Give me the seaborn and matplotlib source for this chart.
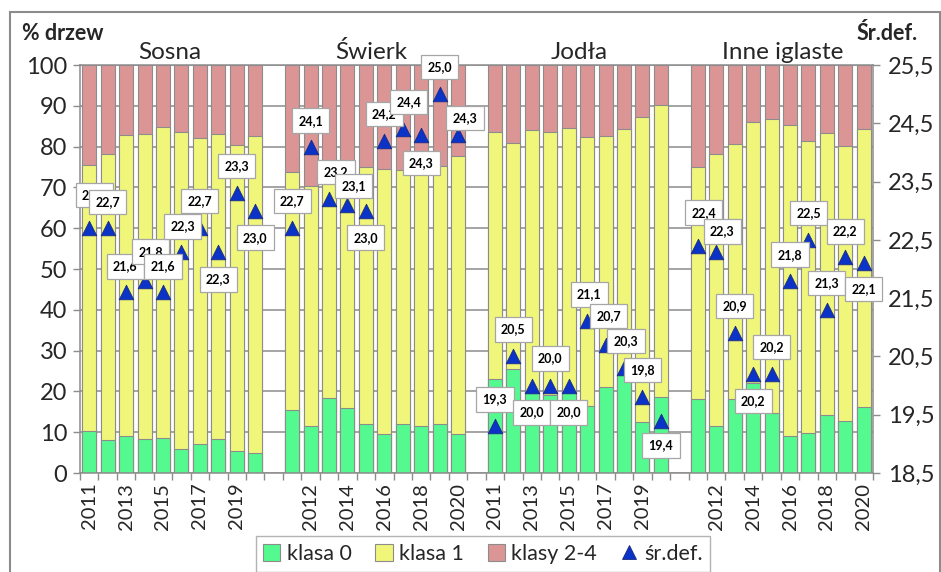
import numpy as np
import pandas as pd
import matplotlib
matplotlib.use("Agg")
import matplotlib.pyplot as plt
import seaborn as sns
from matplotlib.patches import Patch, Rectangle
from matplotlib.lines import Line2D
from matplotlib.ticker import FixedLocator

# ---------------- data ----------------
groups = ["Sosna", "Świerk", "Jodła", "Inne iglaste"]
years = [2011, 2012, 2013, 2014, 2015, 2016, 2017, 2018, 2019, 2020]

klasa0 = {
    "Sosna":        [10.3, 8.0, 9.1, 8.3, 8.7, 5.9, 7.1, 8.3, 5.4, 4.9],
    "Świerk":       [15.4, 11.5, 18.5, 16.0, 12.0, 9.5, 12.0, 11.5, 12.0, 9.5],
    "Jodła":        [23.0, 25.5, 19.5, 19.1, 19.9, 16.4, 21.2, 24.2, 12.6, 18.7],
    "Inne iglaste": [18.1, 11.6, 18.1, 22.0, 14.6, 9.1, 9.7, 14.1, 12.7, 16.2],
}
klasa1 = {
    "Sosna":        [65.2, 70.2, 73.8, 74.9, 76.2, 77.6, 75.0, 74.8, 74.9, 77.6],
    "Świerk":       [58.4, 58.9, 52.8, 55.5, 62.9, 64.9, 62.2, 63.5, 63.2, 68.1],
    "Jodła":        [60.5, 55.5, 64.5, 64.5, 64.7, 65.9, 61.3, 60.1, 74.7, 71.5],
    "Inne iglaste": [56.8, 66.6, 62.5, 64.0, 72.2, 76.2, 71.6, 69.2, 67.5, 68.2],
}
klasy24 = {
    "Sosna":        [24.5, 21.8, 17.1, 16.8, 15.1, 16.5, 17.9, 16.9, 19.7, 17.5],
    "Świerk":       [26.2, 29.6, 28.7, 28.5, 25.1, 25.6, 25.8, 25.0, 24.8, 22.4],
    "Jodła":        [16.5, 19.0, 16.0, 16.4, 15.4, 17.7, 17.5, 15.7, 12.7, 9.8],
    "Inne iglaste": [25.1, 21.8, 19.4, 14.0, 13.2, 14.7, 18.7, 16.7, 19.8, 15.6],
}
sr_def = {
    "Sosna":        [22.7, 22.7, 21.6, 21.8, 21.6, 22.3, 22.7, 22.3, 23.3, 23.0],
    "Świerk":       [22.7, 24.1, 23.2, 23.1, 23.0, 24.2, 24.4, 24.3, 25.0, 24.3],
    "Jodła":        [19.3, 20.5, 20.0, 20.0, 20.0, 21.1, 20.7, 20.3, 19.8, 19.4],
    "Inne iglaste": [22.4, 22.3, 20.9, 20.2, 20.2, 21.8, 22.5, 21.3, 22.2, 22.1],
}
legend_labels = ["klasa 0", "klasa 1", "klasy 2-4", "śr.def."]
left_label = "% drzew"
right_label = "Śr.def."

# ---------------- layout (not data) ----------------
# label offsets in pixels (dx, dy downward) for each data label
label_offsets = [
    (5, -33), (0, -26), (-1, -26), (6, -29), (0, -26), (1, -25), (0, -27), (0, 28), (0, -27), (0, 27),
    (0, -27), (0, -26), (7, -27), (6, -19), (0, 27), (0, -27), (6, -27), (0, 28), (0, -27), (7, -17),
    (0, -27), (0, -27), (0, 27), (0, -27), (0, 27), (2, -27), (3, -29), (2, -27), (0, -27), (0, 25),
    (6, -33), (6, -20), (0, -27), (0, 27), (0, -27), (0, -26), (0, -27), (0, -27), (0, -26), (0, 26),
]
title_x = [4.38, 15.28, 26.56, 37.6]

C_GREEN = "#54FA8F"
C_YELLOW = "#F0F67A"
C_PINK = "#DB9595"
C_BLUE = "#0B33C8"
C_EDGE = "#8C8C8C"
C_GRID = "#8C8C8C"

# ---------------- build table ----------------
rows = []
for gi, g in enumerate(groups):
    for yi, yr in enumerate(years):
        pos = gi * (len(years) + 1) + yi
        rows.append(dict(group=g, year=yr, pos=float(pos),
                         k0=klasa0[g][yi], k1=klasa1[g][yi], k24=klasy24[g][yi],
                         sd=sr_def[g][yi]))
df = pd.DataFrame(rows)
df["cum1"] = df["k0"] + df["k1"]
df["cum2"] = df["cum1"] + df["k24"]
nslots = len(groups) * (len(years) + 1) - 1

sns.set_theme(style="white")
plt.rcParams["font.family"] = ["Lato", "DejaVu Sans"]

fig = plt.figure(figsize=(9.41, 5.72), dpi=100)
ax1 = fig.add_axes([80 / 941, 1 - 473 / 572, (873 - 80) / 941, (473 - 65) / 572])

bw = 0.76
for col, c in [("cum2", C_PINK), ("cum1", C_YELLOW), ("k0", C_GREEN)]:
    sns.barplot(data=df, x="pos", y=col, native_scale=True, width=bw, color=c,
                saturation=1, edgecolor=C_EDGE, linewidth=0.8, errorbar=None, ax=ax1)

ax1.set_xlim(-0.5, nslots - 0.5)
ax1.set_ylim(0, 100)
ax1.set_yticks(np.arange(0, 101, 10))
ax1.set_axisbelow(True)
ax1.yaxis.grid(True, color=C_GRID, linewidth=1.1)
ax1.xaxis.grid(False)
ax1.set_xlabel("")
ax1.set_ylabel("")
for s in ["left", "bottom", "top", "right"]:
    ax1.spines[s].set_color(C_GRID)
    ax1.spines[s].set_linewidth(1.1)
ax1.spines["right"].set_visible(False)

# x ticks: labels every second slot, marks between categories
tick_pos = list(range(0, nslots, 2))
pos_to_year = {int(p): str(y) for p, y in zip(df["pos"], df["year"])}
ax1.set_xticks(tick_pos)
ax1.set_xticklabels([pos_to_year.get(p, "") for p in tick_pos], rotation=90, fontsize=14.5)
ax1.xaxis.set_minor_locator(FixedLocator(np.arange(-0.5, nslots, 1.0)))
ax1.tick_params(axis="x", which="major", length=0, pad=7)
ax1.tick_params(axis="x", which="minor", length=5, width=1.0, color=C_GRID, bottom=True)
ax1.tick_params(axis="y", which="major", length=5, width=1.0, color=C_GRID, left=True,
                labelsize=17, pad=4)

# right axis
ax2 = ax1.twinx()
ax2.set_ylim(18.5, 25.5)
rt = np.arange(18.5, 25.51, 1.0)
ax2.set_yticks(rt)
ax2.set_yticklabels([f"{v:.1f}".replace(".", ",") for v in rt], fontsize=17)
ax2.tick_params(axis="y", which="major", length=5, width=1.0, color=C_GRID, right=True, pad=6)
for s in ["left", "bottom", "top"]:
    ax2.spines[s].set_visible(False)
ax2.spines["right"].set_color(C_GRID)
ax2.spines["right"].set_linewidth(1.1)
ax2.grid(False)

sns.scatterplot(data=df, x="pos", y="sd", marker="^", s=110, color=C_BLUE,
                edgecolor="#1A2A80", linewidth=0.6, ax=ax2, zorder=5, legend=False)
ax2.set_xlabel("")
ax2.set_ylabel("")
ax2.set_xlim(-0.5, nslots - 0.5)

for i, r in df.iterrows():
    dx, dy = label_offsets[i]
    ax2.annotate(f"{r['sd']:.1f}".replace(".", ","), (r["pos"], r["sd"]),
                 xytext=(dx, -dy), textcoords="offset pixels", ha="center", va="center",
                 fontsize=9, fontweight="bold", color="black", zorder=6,
                 bbox=dict(boxstyle="square,pad=0.5", fc="white", ec="#A6A6A6", lw=0.9))

# group titles
for g, tx in zip(groups, title_x):
    ax1.annotate(g, (tx, 1.0), xycoords=("data", "axes fraction"), xytext=(0, 6),
                 textcoords="offset pixels", ha="center", va="baseline", fontsize=17.5)

fig.text(22 / 941, 1 - 40 / 572, left_label, fontsize=15.5, fontweight="bold", va="baseline", ha="left")
fig.text(857 / 941, 1 - 40 / 572, right_label, fontsize=15.5, fontweight="bold", va="baseline", ha="left")

# legend
handles = [
    Patch(facecolor=C_GREEN, edgecolor=C_EDGE, linewidth=0.8),
    Patch(facecolor=C_YELLOW, edgecolor=C_EDGE, linewidth=0.8),
    Patch(facecolor=C_PINK, edgecolor=C_EDGE, linewidth=0.8),
    Line2D([], [], marker="^", linestyle="none", markersize=10, markerfacecolor=C_BLUE,
           markeredgecolor="#1A2A80", markeredgewidth=0.6),
]
leg = fig.legend(handles, legend_labels, loc="center", bbox_to_anchor=(483 / 941, 1 - 554 / 572),
                 ncol=4, frameon=True, fancybox=False, fontsize=15.5, handlelength=0.8,
                 handleheight=0.8, handletextpad=0.3, columnspacing=1.1, borderpad=0.35)
leg.get_frame().set_edgecolor("#A0A0A0")
leg.get_frame().set_linewidth(1.0)

# chart-area frame
fig.patches.append(Rectangle((10 / 941, -0.01), 940 / 941 - 10 / 941, 1.01 - 12 / 572,
                             transform=fig.transFigure, fill=False, edgecolor="#8C8C8C",
                             linewidth=1.5, zorder=0))

fig.savefig("out.png", dpi=100)
